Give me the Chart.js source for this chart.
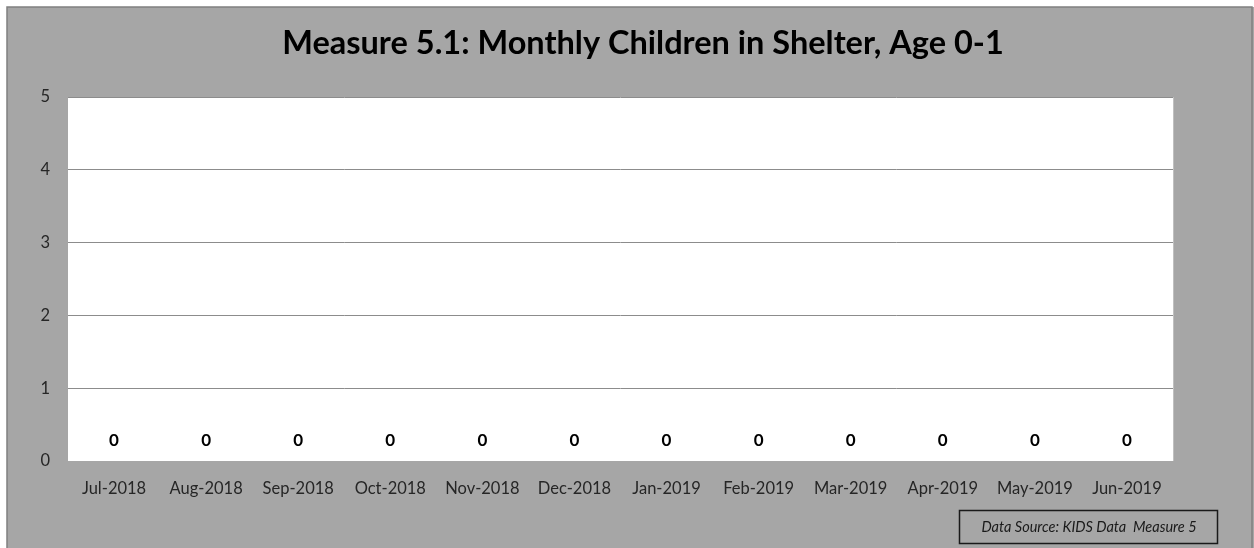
<!DOCTYPE html>
<html>
<head>
<meta charset="utf-8">
<script src="https://cdn.jsdelivr.net/npm/chart.js@4.4.1/dist/chart.umd.min.js"></script>
<style>
  html, body { margin: 0; padding: 0; background: #ffffff; }
  #wrap { position: absolute; left: 0; top: 0; width: 1254px; height: 548px; }
</style>
</head>
<body>
<div id="wrap"><canvas id="chart" width="1254" height="548"></canvas></div>
<script>
// chart values
var months = ["Jul-2018","Aug-2018","Sep-2018","Oct-2018","Nov-2018","Dec-2018",
              "Jan-2019","Feb-2019","Mar-2019","Apr-2019","May-2019","Jun-2019"];
var childrenInShelter = [0,0,0,0,0,0,0,0,0,0,0,0];
var yTicks = [0,1,2,3,4,5];
var chartTitle = "Measure 5.1: Monthly Children in Shelter, Age 0-1";
var sourceNote = "Data Source: KIDS Data  Measure 5";

var FONT = "Lato, 'Open Sans', sans-serif";

// background, frame, title, plot fill and source box
var decorPlugin = {
    id: 'decor',
    beforeDraw: function(chart) {
        var ctx = chart.ctx;
        var a = chart.chartArea;
        ctx.save();
        ctx.fillStyle = '#ffffff';
        ctx.fillRect(0, 0, chart.width, chart.height);
        ctx.fillStyle = '#a6a6a6';
        ctx.fillRect(7, 7, chart.width - 7, chart.height - 7);
        ctx.strokeStyle = '#808080';
        ctx.lineWidth = 1.5;
        ctx.beginPath();
        ctx.moveTo(7, chart.height + 2);
        ctx.lineTo(7, 7);
        ctx.lineTo(chart.width - 2, 7);
        ctx.lineTo(chart.width - 2, chart.height + 2);
        ctx.stroke();
        // plot area
        ctx.fillStyle = '#ffffff';
        ctx.fillRect(a.left, a.top, a.right - a.left, a.bottom - a.top);
        ctx.strokeStyle = '#c0c0c0';
        ctx.lineWidth = 1;
        ctx.beginPath();
        ctx.moveTo(a.right + 0.5, a.top);
        ctx.lineTo(a.right + 0.5, a.bottom);
        ctx.stroke();
        ctx.restore();
    },
    afterDraw: function(chart) {
        var ctx = chart.ctx;
        ctx.save();
        ctx.fillStyle = '#000000';
        ctx.font = "bold 32.5px " + FONT;
        ctx.textAlign = 'center';
        ctx.textBaseline = 'middle';
        ctx.fillText(chartTitle, 643, 44);
        // source box
        ctx.strokeStyle = '#1a1a1a';
        ctx.lineWidth = 1.5;
        ctx.strokeRect(959.5, 510.5, 258, 33);
        ctx.font = "italic 14.5px " + FONT;
        ctx.fillStyle = '#1a1a1a';
        ctx.fillText(sourceNote, 1089, 527);
        ctx.restore();
    }
};

// bold value labels above each bar
var valueLabels = {
    id: 'valueLabels',
    afterDatasetsDraw: function(chart) {
        var ctx = chart.ctx;
        var meta = chart.getDatasetMeta(0);
        ctx.save();
        ctx.font = "bold 17px " + FONT;
        ctx.fillStyle = '#000000';
        ctx.textAlign = 'center';
        ctx.textBaseline = 'middle';
        meta.data.forEach(function(bar, i) {
            ctx.fillText(String(childrenInShelter[i]), bar.x, bar.y - 20);
        });
        ctx.restore();
    }
};

var ctx = document.getElementById('chart').getContext('2d');
var chart = new Chart(ctx, {
    type: 'bar',
    data: {
        labels: months,
        datasets: [{
            label: 'Children in Shelter',
            data: childrenInShelter,
            backgroundColor: '#4f81bd',
            borderWidth: 0
        }]
    },
    options: {
        responsive: false,
        animation: false,
        devicePixelRatio: 1,
        layout: { padding: { left: 0, right: 81, top: 97, bottom: 0 } },
        plugins: {
            legend: { display: false },
            tooltip: { enabled: false },
            title: { display: false }
        },
        scales: {
            x: {
                grid: { display: false, drawTicks: false },
                border: { display: false },
                ticks: {
                    color: '#262626',
                    font: { family: FONT, size: 16.5 },
                    padding: 18,
                    maxRotation: 0,
                    autoSkip: false
                },
                afterFit: function(scale) { scale.height = 87; }
            },
            y: {
                min: 0,
                max: 5,
                afterBuildTicks: function(scale) {
                    scale.ticks = yTicks.map(function(v) { return { value: v }; });
                },
                grid: {
                    color: function(c) { return c.tick.value === 0 ? 'rgba(0,0,0,0)' : '#8c8c8c'; },
                    lineWidth: 1,
                    drawTicks: false
                },
                border: { display: false },
                ticks: {
                    color: '#262626',
                    font: { family: FONT, size: 16.5 },
                    padding: 18
                },
                afterFit: function(scale) { scale.width = 68; }
            }
        }
    },
    plugins: [decorPlugin, valueLabels]
});
</script>
</body>
</html>
